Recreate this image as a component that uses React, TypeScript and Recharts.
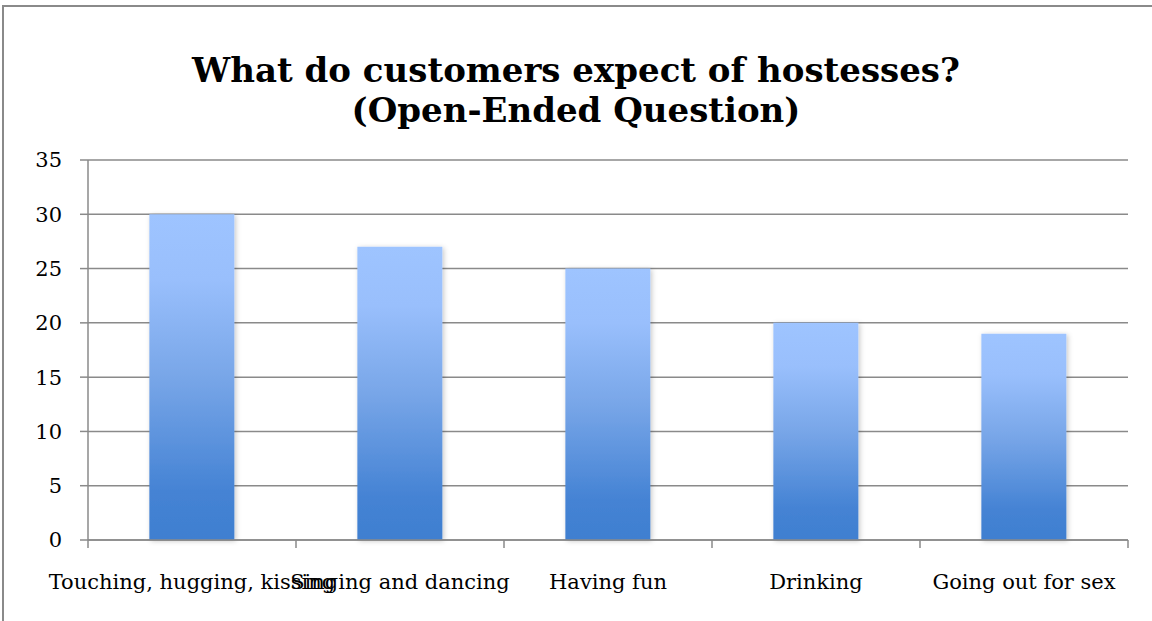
import React from "react";
import { BarChart, Bar, XAxis, YAxis, CartesianGrid } from "recharts";

const categories = [
  "Touching, hugging, kissing",
  "Singing and dancing",
  "Having fun",
  "Drinking",
  "Going out for sex",
];
const counts = [30, 27, 25, 20, 19];
const yTicks = [0, 5, 10, 15, 20, 25, 30, 35];
const titleLines = ["What do customers expect of hostesses?", "(Open-Ended Question)"];

const data = categories.map((name, i) => ({ name, value: counts[i] }));

const W = 1152;
const H = 621;
const MARGIN = { top: 160, right: 24, bottom: 41, left: 0 };
const Y_AXIS_W = 88;
const HALF_BAND = (W - MARGIN.left - MARGIN.right - Y_AXIS_W) / categories.length / 2;
const GRAY = "#8a8a8a";
const FONT = "'DejaVu Serif', serif";

const XTick = (props: any) => {
  const { x, y, payload, index } = props;
  const last = index === categories.length - 1;
  return (
    <g>
      <line x1={x - HALF_BAND} y1={y} x2={x - HALF_BAND} y2={y + 8} stroke={GRAY} strokeWidth={1.5} />
      {last && (
        <line x1={x + HALF_BAND} y1={y} x2={x + HALF_BAND} y2={y + 8} stroke={GRAY} strokeWidth={1.5} />
      )}
      <text x={x} y={y + 49} textAnchor="middle" fontFamily={FONT} fontSize={21} fill="#000">
        {payload.value}
      </text>
    </g>
  );
};

export default function App() {
  return (
    <div style={{ position: "absolute", left: 0, top: 0, width: W, height: H, overflow: "hidden", background: "#fff" }}>
      <div
        style={{
          position: "absolute",
          left: 2,
          top: 5,
          width: 3000,
          height: 3000,
          borderLeft: `2px solid ${GRAY}`,
          borderTop: `2px solid ${GRAY}`,
        }}
      />
      <div
        style={{
          position: "absolute",
          left: 0,
          top: 50,
          width: W,
          textAlign: "center",
          fontFamily: FONT,
          fontWeight: "bold",
          fontSize: 34,
          lineHeight: "40px",
          color: "#000",
        }}
      >
        {titleLines.map((t) => (
          <div key={t}>{t}</div>
        ))}
      </div>
      <div style={{ position: "absolute", left: 0, top: 0 }}>
        <BarChart width={W} height={H} data={data} margin={MARGIN} barCategoryGap="29.5%">
          <defs>
            <linearGradient id="barGrad" x1="0" y1="0" x2="0" y2="1">
              <stop offset="0%" stopColor="#9ec4ff" />
              <stop offset="20%" stopColor="#99bffc" />
              <stop offset="50%" stopColor="#78a6e8" />
              <stop offset="85%" stopColor="#4583d4" />
              <stop offset="100%" stopColor="#3f7fd0" />
            </linearGradient>
            <filter id="barShadow" x="-20%" y="-5%" width="140%" height="110%">
              <feDropShadow dx="1.5" dy="1" stdDeviation="2.5" floodColor="#000" floodOpacity="0.22" />
            </filter>
          </defs>
          <CartesianGrid vertical={false} stroke={GRAY} strokeWidth={1.5} strokeDasharray="" />
          <YAxis
            width={Y_AXIS_W}
            domain={[0, 35]}
            ticks={yTicks}
            interval={0}
            axisLine={{ stroke: GRAY, strokeWidth: 1.5 }}
            tickLine={{ stroke: GRAY, strokeWidth: 1.5 }}
            tickSize={8}
            tickMargin={18}
            tick={{ fontFamily: FONT, fontSize: 21, fill: "#000" }}
          />
          <XAxis
            dataKey="name"
            height={40}
            interval={0}
            axisLine={{ stroke: GRAY, strokeWidth: 1.5 }}
            tickLine={false}
            tickSize={0}
            tickMargin={0}
            tick={<XTick />}
          />
          <Bar dataKey="value" fill="url(#barGrad)" filter="url(#barShadow)" isAnimationActive={false} />
        </BarChart>
      </div>
    </div>
  );
}
